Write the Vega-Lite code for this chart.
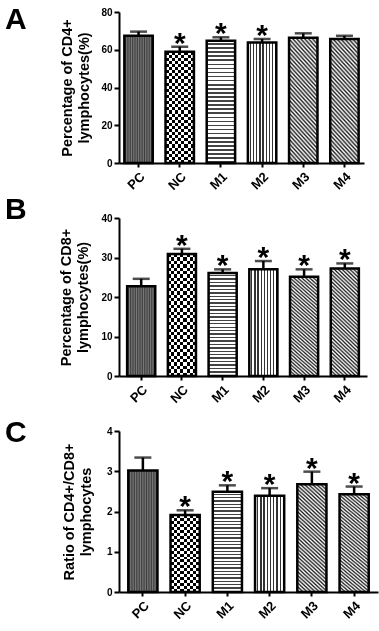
{
  "$schema": "https://vega.github.io/schema/vega-lite/v6.json",
  "background": "white",
  "padding": 5,
  "data": {"values": [
    {"p": "A", "g": "PC", "mean": 67.4, "hi": 69.6, "s": 0},
    {"p": "A", "g": "NC", "mean": 59.0, "hi": 61.6, "s": 1},
    {"p": "A", "g": "M1", "mean": 64.8, "hi": 66.6, "s": 1},
    {"p": "A", "g": "M2", "mean": 63.9, "hi": 65.7, "s": 1},
    {"p": "A", "g": "M3", "mean": 66.4, "hi": 68.7, "s": 0},
    {"p": "A", "g": "M4", "mean": 65.7, "hi": 67.4, "s": 0},
    {"p": "B", "g": "PC", "mean": 22.7, "hi": 24.6, "s": 0},
    {"p": "B", "g": "NC", "mean": 30.9, "hi": 32.2, "s": 1},
    {"p": "B", "g": "M1", "mean": 26.1, "hi": 27.0, "s": 1},
    {"p": "B", "g": "M2", "mean": 27.0, "hi": 29.1, "s": 1},
    {"p": "B", "g": "M3", "mean": 25.1, "hi": 27.0, "s": 1},
    {"p": "B", "g": "M4", "mean": 27.2, "hi": 28.5, "s": 1},
    {"p": "C", "g": "PC", "mean": 3.02, "hi": 3.34, "s": 0},
    {"p": "C", "g": "NC", "mean": 1.91, "hi": 2.03, "s": 1},
    {"p": "C", "g": "M1", "mean": 2.49, "hi": 2.65, "s": 1},
    {"p": "C", "g": "M2", "mean": 2.39, "hi": 2.58, "s": 1},
    {"p": "C", "g": "M3", "mean": 2.68, "hi": 2.99, "s": 1},
    {"p": "C", "g": "M4", "mean": 2.43, "hi": 2.62, "s": 1}
  ]},
  "bounds": "flush",
  "spacing": 55,
  "vconcat": [
    {
      "width": 245, "height": 151,
      "title": {"text": "A", "anchor": "start", "frame": "group", "dx": -114, "offset": -52, "baseline": "alphabetic", "fontSize": 30, "fontWeight": "bold", "font": "Liberation Sans", "color": "#000"},
      "transform": [{"filter": "datum.p==='A'"}],
      "encoding": {
        "x": {"field": "g", "type": "nominal", "sort": null, "title": null, "scale": {"domain": ["PC","NC","M1","M2","M3","M4"], "paddingInner": 0.31, "paddingOuter": 0.13}, "axis": {"labelAngle": -45}},
        "y": {"field": "mean", "type": "quantitative", "scale": {"domain": [0, 80]}, "axis": {"values": [0,20,40,60,80], "title": ["Percentage of CD4+", "lymphocytes(%)"], "titlePadding": 9}}
      },
      "layer": [
        {"transform": [{"filter": "datum.g==='PC'"}], "mark": {"type": "bar", "fill": {"gradient": "linear", "x1": 0, "y1": 0, "x2": 1, "y2": 0, "stops": [
          {"offset": 0, "color": "#7a7a7a"}, {"offset": 0.04167, "color": "#3c3c3c"}, {"offset": 0.08333, "color": "#7a7a7a"}, {"offset": 0.125, "color": "#3c3c3c"},
          {"offset": 0.16667, "color": "#7a7a7a"}, {"offset": 0.20833, "color": "#3c3c3c"}, {"offset": 0.25, "color": "#7a7a7a"}, {"offset": 0.29167, "color": "#3c3c3c"},
          {"offset": 0.33333, "color": "#7a7a7a"}, {"offset": 0.375, "color": "#3c3c3c"}, {"offset": 0.41667, "color": "#7a7a7a"}, {"offset": 0.45833, "color": "#3c3c3c"},
          {"offset": 0.5, "color": "#7a7a7a"}, {"offset": 0.54167, "color": "#3c3c3c"}, {"offset": 0.58333, "color": "#7a7a7a"}, {"offset": 0.625, "color": "#3c3c3c"},
          {"offset": 0.66667, "color": "#7a7a7a"}, {"offset": 0.70833, "color": "#3c3c3c"}, {"offset": 0.75, "color": "#7a7a7a"}, {"offset": 0.79167, "color": "#3c3c3c"},
          {"offset": 0.83333, "color": "#7a7a7a"}, {"offset": 0.875, "color": "#3c3c3c"}, {"offset": 0.91667, "color": "#7a7a7a"}, {"offset": 0.95833, "color": "#3c3c3c"},
          {"offset": 1, "color": "#7a7a7a"}]}}},
        {"transform": [{"filter": "datum.g==='NC'"}], "mark": {"type": "bar", "fill": {"gradient": "linear", "x1": 0, "y1": 0, "x2": 1, "y2": 0, "stops": [
          {"offset": 0, "color": "#fff"}, {"offset": 0.1111, "color": "#fff"}, {"offset": 0.1111, "color": "#000"}, {"offset": 0.2222, "color": "#000"},
          {"offset": 0.2222, "color": "#fff"}, {"offset": 0.3333, "color": "#fff"}, {"offset": 0.3333, "color": "#000"}, {"offset": 0.4444, "color": "#000"},
          {"offset": 0.4444, "color": "#fff"}, {"offset": 0.5556, "color": "#fff"}, {"offset": 0.5556, "color": "#000"}, {"offset": 0.6667, "color": "#000"},
          {"offset": 0.6667, "color": "#fff"}, {"offset": 0.7778, "color": "#fff"}, {"offset": 0.7778, "color": "#000"}, {"offset": 0.8889, "color": "#000"},
          {"offset": 0.8889, "color": "#fff"}, {"offset": 1, "color": "#fff"}]}}},
        {"transform": [{"filter": "datum.g==='NC'"}], "mark": {"type": "bar", "blend": "difference", "fill": {"gradient": "linear", "x1": 0, "y1": 0, "x2": 0, "y2": 1, "stops": [
          {"offset": 0, "color": "#fff"}, {"offset": 0.02778, "color": "#fff"}, {"offset": 0.02778, "color": "transparent"}, {"offset": 0.05556, "color": "transparent"},
          {"offset": 0.05556, "color": "#fff"}, {"offset": 0.08333, "color": "#fff"}, {"offset": 0.08333, "color": "transparent"}, {"offset": 0.11111, "color": "transparent"},
          {"offset": 0.11111, "color": "#fff"}, {"offset": 0.13889, "color": "#fff"}, {"offset": 0.13889, "color": "transparent"}, {"offset": 0.16667, "color": "transparent"},
          {"offset": 0.16667, "color": "#fff"}, {"offset": 0.19444, "color": "#fff"}, {"offset": 0.19444, "color": "transparent"}, {"offset": 0.22222, "color": "transparent"},
          {"offset": 0.22222, "color": "#fff"}, {"offset": 0.25, "color": "#fff"}, {"offset": 0.25, "color": "transparent"}, {"offset": 0.27778, "color": "transparent"},
          {"offset": 0.27778, "color": "#fff"}, {"offset": 0.30556, "color": "#fff"}, {"offset": 0.30556, "color": "transparent"}, {"offset": 0.33333, "color": "transparent"},
          {"offset": 0.33333, "color": "#fff"}, {"offset": 0.36111, "color": "#fff"}, {"offset": 0.36111, "color": "transparent"}, {"offset": 0.38889, "color": "transparent"},
          {"offset": 0.38889, "color": "#fff"}, {"offset": 0.41667, "color": "#fff"}, {"offset": 0.41667, "color": "transparent"}, {"offset": 0.44444, "color": "transparent"},
          {"offset": 0.44444, "color": "#fff"}, {"offset": 0.47222, "color": "#fff"}, {"offset": 0.47222, "color": "transparent"}, {"offset": 0.5, "color": "transparent"},
          {"offset": 0.5, "color": "#fff"}, {"offset": 0.52778, "color": "#fff"}, {"offset": 0.52778, "color": "transparent"}, {"offset": 0.55556, "color": "transparent"},
          {"offset": 0.55556, "color": "#fff"}, {"offset": 0.58333, "color": "#fff"}, {"offset": 0.58333, "color": "transparent"}, {"offset": 0.61111, "color": "transparent"},
          {"offset": 0.61111, "color": "#fff"}, {"offset": 0.63889, "color": "#fff"}, {"offset": 0.63889, "color": "transparent"}, {"offset": 0.66667, "color": "transparent"},
          {"offset": 0.66667, "color": "#fff"}, {"offset": 0.69444, "color": "#fff"}, {"offset": 0.69444, "color": "transparent"}, {"offset": 0.72222, "color": "transparent"},
          {"offset": 0.72222, "color": "#fff"}, {"offset": 0.75, "color": "#fff"}, {"offset": 0.75, "color": "transparent"}, {"offset": 0.77778, "color": "transparent"},
          {"offset": 0.77778, "color": "#fff"}, {"offset": 0.80556, "color": "#fff"}, {"offset": 0.80556, "color": "transparent"}, {"offset": 0.83333, "color": "transparent"},
          {"offset": 0.83333, "color": "#fff"}, {"offset": 0.86111, "color": "#fff"}, {"offset": 0.86111, "color": "transparent"}, {"offset": 0.88889, "color": "transparent"},
          {"offset": 0.88889, "color": "#fff"}, {"offset": 0.91667, "color": "#fff"}, {"offset": 0.91667, "color": "transparent"}, {"offset": 0.94444, "color": "transparent"},
          {"offset": 0.94444, "color": "#fff"}, {"offset": 0.97222, "color": "#fff"}, {"offset": 0.97222, "color": "transparent"}, {"offset": 1, "color": "transparent"}]}}},
        {"transform": [{"filter": "datum.g==='M1'"}], "mark": {"type": "bar", "fill": {"gradient": "linear", "x1": 0, "y1": 0, "x2": 0, "y2": 1, "stops": [
          {"offset": 0, "color": "#fff"}, {"offset": 0.02, "color": "#fff"}, {"offset": 0.02, "color": "#444"}, {"offset": 0.03333, "color": "#444"},
          {"offset": 0.03333, "color": "#fff"}, {"offset": 0.05333, "color": "#fff"}, {"offset": 0.05333, "color": "#444"}, {"offset": 0.06667, "color": "#444"},
          {"offset": 0.06667, "color": "#fff"}, {"offset": 0.08667, "color": "#fff"}, {"offset": 0.08667, "color": "#444"}, {"offset": 0.1, "color": "#444"},
          {"offset": 0.1, "color": "#fff"}, {"offset": 0.12, "color": "#fff"}, {"offset": 0.12, "color": "#444"}, {"offset": 0.13333, "color": "#444"},
          {"offset": 0.13333, "color": "#fff"}, {"offset": 0.15333, "color": "#fff"}, {"offset": 0.15333, "color": "#444"}, {"offset": 0.16667, "color": "#444"},
          {"offset": 0.16667, "color": "#fff"}, {"offset": 0.18667, "color": "#fff"}, {"offset": 0.18667, "color": "#444"}, {"offset": 0.2, "color": "#444"},
          {"offset": 0.2, "color": "#fff"}, {"offset": 0.22, "color": "#fff"}, {"offset": 0.22, "color": "#444"}, {"offset": 0.23333, "color": "#444"},
          {"offset": 0.23333, "color": "#fff"}, {"offset": 0.25333, "color": "#fff"}, {"offset": 0.25333, "color": "#444"}, {"offset": 0.26667, "color": "#444"},
          {"offset": 0.26667, "color": "#fff"}, {"offset": 0.28667, "color": "#fff"}, {"offset": 0.28667, "color": "#444"}, {"offset": 0.3, "color": "#444"},
          {"offset": 0.3, "color": "#fff"}, {"offset": 0.32, "color": "#fff"}, {"offset": 0.32, "color": "#444"}, {"offset": 0.33333, "color": "#444"},
          {"offset": 0.33333, "color": "#fff"}, {"offset": 0.35333, "color": "#fff"}, {"offset": 0.35333, "color": "#444"}, {"offset": 0.36667, "color": "#444"},
          {"offset": 0.36667, "color": "#fff"}, {"offset": 0.38667, "color": "#fff"}, {"offset": 0.38667, "color": "#444"}, {"offset": 0.4, "color": "#444"},
          {"offset": 0.4, "color": "#fff"}, {"offset": 0.42, "color": "#fff"}, {"offset": 0.42, "color": "#444"}, {"offset": 0.43333, "color": "#444"},
          {"offset": 0.43333, "color": "#fff"}, {"offset": 0.45333, "color": "#fff"}, {"offset": 0.45333, "color": "#444"}, {"offset": 0.46667, "color": "#444"},
          {"offset": 0.46667, "color": "#fff"}, {"offset": 0.48667, "color": "#fff"}, {"offset": 0.48667, "color": "#444"}, {"offset": 0.5, "color": "#444"},
          {"offset": 0.5, "color": "#fff"}, {"offset": 0.52, "color": "#fff"}, {"offset": 0.52, "color": "#444"}, {"offset": 0.53333, "color": "#444"},
          {"offset": 0.53333, "color": "#fff"}, {"offset": 0.55333, "color": "#fff"}, {"offset": 0.55333, "color": "#444"}, {"offset": 0.56667, "color": "#444"},
          {"offset": 0.56667, "color": "#fff"}, {"offset": 0.58667, "color": "#fff"}, {"offset": 0.58667, "color": "#444"}, {"offset": 0.6, "color": "#444"},
          {"offset": 0.6, "color": "#fff"}, {"offset": 0.62, "color": "#fff"}, {"offset": 0.62, "color": "#444"}, {"offset": 0.63333, "color": "#444"},
          {"offset": 0.63333, "color": "#fff"}, {"offset": 0.65333, "color": "#fff"}, {"offset": 0.65333, "color": "#444"}, {"offset": 0.66667, "color": "#444"},
          {"offset": 0.66667, "color": "#fff"}, {"offset": 0.68667, "color": "#fff"}, {"offset": 0.68667, "color": "#444"}, {"offset": 0.7, "color": "#444"},
          {"offset": 0.7, "color": "#fff"}, {"offset": 0.72, "color": "#fff"}, {"offset": 0.72, "color": "#444"}, {"offset": 0.73333, "color": "#444"},
          {"offset": 0.73333, "color": "#fff"}, {"offset": 0.75333, "color": "#fff"}, {"offset": 0.75333, "color": "#444"}, {"offset": 0.76667, "color": "#444"},
          {"offset": 0.76667, "color": "#fff"}, {"offset": 0.78667, "color": "#fff"}, {"offset": 0.78667, "color": "#444"}, {"offset": 0.8, "color": "#444"},
          {"offset": 0.8, "color": "#fff"}, {"offset": 0.82, "color": "#fff"}, {"offset": 0.82, "color": "#444"}, {"offset": 0.83333, "color": "#444"},
          {"offset": 0.83333, "color": "#fff"}, {"offset": 0.85333, "color": "#fff"}, {"offset": 0.85333, "color": "#444"}, {"offset": 0.86667, "color": "#444"},
          {"offset": 0.86667, "color": "#fff"}, {"offset": 0.88667, "color": "#fff"}, {"offset": 0.88667, "color": "#444"}, {"offset": 0.9, "color": "#444"},
          {"offset": 0.9, "color": "#fff"}, {"offset": 0.92, "color": "#fff"}, {"offset": 0.92, "color": "#444"}, {"offset": 0.93333, "color": "#444"},
          {"offset": 0.93333, "color": "#fff"}, {"offset": 0.95333, "color": "#fff"}, {"offset": 0.95333, "color": "#444"}, {"offset": 0.96667, "color": "#444"},
          {"offset": 0.96667, "color": "#fff"}, {"offset": 0.98667, "color": "#fff"}, {"offset": 0.98667, "color": "#444"}, {"offset": 1, "color": "#444"}]}}},
        {"transform": [{"filter": "datum.g==='M2'"}], "mark": {"type": "bar", "fill": {"gradient": "linear", "x1": 0, "y1": 0, "x2": 1, "y2": 0, "stops": [
          {"offset": 0, "color": "#fff"}, {"offset": 0.0667, "color": "#fff"}, {"offset": 0.0667, "color": "#333"}, {"offset": 0.1111, "color": "#333"},
          {"offset": 0.1111, "color": "#fff"}, {"offset": 0.1778, "color": "#fff"}, {"offset": 0.1778, "color": "#333"}, {"offset": 0.2222, "color": "#333"},
          {"offset": 0.2222, "color": "#fff"}, {"offset": 0.2889, "color": "#fff"}, {"offset": 0.2889, "color": "#333"}, {"offset": 0.3333, "color": "#333"},
          {"offset": 0.3333, "color": "#fff"}, {"offset": 0.4, "color": "#fff"}, {"offset": 0.4, "color": "#333"}, {"offset": 0.4444, "color": "#333"},
          {"offset": 0.4444, "color": "#fff"}, {"offset": 0.5111, "color": "#fff"}, {"offset": 0.5111, "color": "#333"}, {"offset": 0.5556, "color": "#333"},
          {"offset": 0.5556, "color": "#fff"}, {"offset": 0.6222, "color": "#fff"}, {"offset": 0.6222, "color": "#333"}, {"offset": 0.6667, "color": "#333"},
          {"offset": 0.6667, "color": "#fff"}, {"offset": 0.7333, "color": "#fff"}, {"offset": 0.7333, "color": "#333"}, {"offset": 0.7778, "color": "#333"},
          {"offset": 0.7778, "color": "#fff"}, {"offset": 0.8444, "color": "#fff"}, {"offset": 0.8444, "color": "#333"}, {"offset": 0.8889, "color": "#333"},
          {"offset": 0.8889, "color": "#fff"}, {"offset": 0.9556, "color": "#fff"}, {"offset": 0.9556, "color": "#333"}, {"offset": 1, "color": "#333"}]}}},
        {"transform": [{"filter": "datum.g==='M3'||datum.g==='M4'"}], "mark": {"type": "bar", "fill": {"gradient": "linear", "x1": 0, "y1": 1, "x2": 0.294, "y2": -0.176, "stops": [
          {"offset": 0, "color": "#fff"}, {"offset": 0.01389, "color": "#222"}, {"offset": 0.02778, "color": "#fff"}, {"offset": 0.04167, "color": "#222"},
          {"offset": 0.05556, "color": "#fff"}, {"offset": 0.06944, "color": "#222"}, {"offset": 0.08333, "color": "#fff"}, {"offset": 0.09722, "color": "#222"},
          {"offset": 0.11111, "color": "#fff"}, {"offset": 0.125, "color": "#222"}, {"offset": 0.13889, "color": "#fff"}, {"offset": 0.15278, "color": "#222"},
          {"offset": 0.16667, "color": "#fff"}, {"offset": 0.18056, "color": "#222"}, {"offset": 0.19444, "color": "#fff"}, {"offset": 0.20833, "color": "#222"},
          {"offset": 0.22222, "color": "#fff"}, {"offset": 0.23611, "color": "#222"}, {"offset": 0.25, "color": "#fff"}, {"offset": 0.26389, "color": "#222"},
          {"offset": 0.27778, "color": "#fff"}, {"offset": 0.29167, "color": "#222"}, {"offset": 0.30556, "color": "#fff"}, {"offset": 0.31944, "color": "#222"},
          {"offset": 0.33333, "color": "#fff"}, {"offset": 0.34722, "color": "#222"}, {"offset": 0.36111, "color": "#fff"}, {"offset": 0.375, "color": "#222"},
          {"offset": 0.38889, "color": "#fff"}, {"offset": 0.40278, "color": "#222"}, {"offset": 0.41667, "color": "#fff"}, {"offset": 0.43056, "color": "#222"},
          {"offset": 0.44444, "color": "#fff"}, {"offset": 0.45833, "color": "#222"}, {"offset": 0.47222, "color": "#fff"}, {"offset": 0.48611, "color": "#222"},
          {"offset": 0.5, "color": "#fff"}, {"offset": 0.51389, "color": "#222"}, {"offset": 0.52778, "color": "#fff"}, {"offset": 0.54167, "color": "#222"},
          {"offset": 0.55556, "color": "#fff"}, {"offset": 0.56944, "color": "#222"}, {"offset": 0.58333, "color": "#fff"}, {"offset": 0.59722, "color": "#222"},
          {"offset": 0.61111, "color": "#fff"}, {"offset": 0.625, "color": "#222"}, {"offset": 0.63889, "color": "#fff"}, {"offset": 0.65278, "color": "#222"},
          {"offset": 0.66667, "color": "#fff"}, {"offset": 0.68056, "color": "#222"}, {"offset": 0.69444, "color": "#fff"}, {"offset": 0.70833, "color": "#222"},
          {"offset": 0.72222, "color": "#fff"}, {"offset": 0.73611, "color": "#222"}, {"offset": 0.75, "color": "#fff"}, {"offset": 0.76389, "color": "#222"},
          {"offset": 0.77778, "color": "#fff"}, {"offset": 0.79167, "color": "#222"}, {"offset": 0.80556, "color": "#fff"}, {"offset": 0.81944, "color": "#222"},
          {"offset": 0.83333, "color": "#fff"}, {"offset": 0.84722, "color": "#222"}, {"offset": 0.86111, "color": "#fff"}, {"offset": 0.875, "color": "#222"},
          {"offset": 0.88889, "color": "#fff"}, {"offset": 0.90278, "color": "#222"}, {"offset": 0.91667, "color": "#fff"}, {"offset": 0.93056, "color": "#222"},
          {"offset": 0.94444, "color": "#fff"}, {"offset": 0.95833, "color": "#222"}, {"offset": 0.97222, "color": "#fff"}, {"offset": 0.98611, "color": "#222"},
          {"offset": 1, "color": "#fff"}]}}},
        {"mark": {"type": "bar", "filled": false, "stroke": "#000", "strokeWidth": 2.5}},
        {"mark": {"type": "rule", "stroke": "#000", "strokeWidth": 2.5}, "encoding": {"y2": {"field": "hi"}}},
        {"mark": {"type": "tick", "color": "#000", "size": 17, "thickness": 2.5}, "encoding": {"y": {"field": "hi", "type": "quantitative"}}},
        {"transform": [{"filter": "datum.s===1"}], "mark": {"type": "text", "text": "*", "fontSize": 30, "fontWeight": "bold", "font": "Liberation Sans", "baseline": "alphabetic", "dy": 6, "color": "#000"}, "encoding": {"y": {"field": "hi", "type": "quantitative"}}}
      ]
    },
    {
      "width": 248, "height": 158,
      "title": {"text": "B", "anchor": "start", "frame": "group", "dx": -114, "offset": -36, "baseline": "alphabetic", "fontSize": 30, "fontWeight": "bold", "font": "Liberation Sans", "color": "#000"},
      "transform": [{"filter": "datum.p==='B'"}],
      "encoding": {
        "x": {"field": "g", "type": "nominal", "sort": null, "title": null, "scale": {"domain": ["PC","NC","M1","M2","M3","M4"], "paddingInner": 0.31, "paddingOuter": 0.2}, "axis": {"labelAngle": -45}},
        "y": {"field": "mean", "type": "quantitative", "scale": {"domain": [0, 40]}, "axis": {"values": [0,10,20,30,40], "title": ["Percentage of CD8+", "lymphocytes(%)"], "titlePadding": 10}}
      },
      "layer": [
        {"transform": [{"filter": "datum.g==='PC'"}], "mark": {"type": "bar", "fill": {"gradient": "linear", "x1": 0, "y1": 0, "x2": 1, "y2": 0, "stops": [
          {"offset": 0, "color": "#7a7a7a"}, {"offset": 0.04167, "color": "#3c3c3c"}, {"offset": 0.08333, "color": "#7a7a7a"}, {"offset": 0.125, "color": "#3c3c3c"},
          {"offset": 0.16667, "color": "#7a7a7a"}, {"offset": 0.20833, "color": "#3c3c3c"}, {"offset": 0.25, "color": "#7a7a7a"}, {"offset": 0.29167, "color": "#3c3c3c"},
          {"offset": 0.33333, "color": "#7a7a7a"}, {"offset": 0.375, "color": "#3c3c3c"}, {"offset": 0.41667, "color": "#7a7a7a"}, {"offset": 0.45833, "color": "#3c3c3c"},
          {"offset": 0.5, "color": "#7a7a7a"}, {"offset": 0.54167, "color": "#3c3c3c"}, {"offset": 0.58333, "color": "#7a7a7a"}, {"offset": 0.625, "color": "#3c3c3c"},
          {"offset": 0.66667, "color": "#7a7a7a"}, {"offset": 0.70833, "color": "#3c3c3c"}, {"offset": 0.75, "color": "#7a7a7a"}, {"offset": 0.79167, "color": "#3c3c3c"},
          {"offset": 0.83333, "color": "#7a7a7a"}, {"offset": 0.875, "color": "#3c3c3c"}, {"offset": 0.91667, "color": "#7a7a7a"}, {"offset": 0.95833, "color": "#3c3c3c"},
          {"offset": 1, "color": "#7a7a7a"}]}}},
        {"transform": [{"filter": "datum.g==='NC'"}], "mark": {"type": "bar", "fill": {"gradient": "linear", "x1": 0, "y1": 0, "x2": 1, "y2": 0, "stops": [
          {"offset": 0, "color": "#fff"}, {"offset": 0.1111, "color": "#fff"}, {"offset": 0.1111, "color": "#000"}, {"offset": 0.2222, "color": "#000"},
          {"offset": 0.2222, "color": "#fff"}, {"offset": 0.3333, "color": "#fff"}, {"offset": 0.3333, "color": "#000"}, {"offset": 0.4444, "color": "#000"},
          {"offset": 0.4444, "color": "#fff"}, {"offset": 0.5556, "color": "#fff"}, {"offset": 0.5556, "color": "#000"}, {"offset": 0.6667, "color": "#000"},
          {"offset": 0.6667, "color": "#fff"}, {"offset": 0.7778, "color": "#fff"}, {"offset": 0.7778, "color": "#000"}, {"offset": 0.8889, "color": "#000"},
          {"offset": 0.8889, "color": "#fff"}, {"offset": 1, "color": "#fff"}]}}},
        {"transform": [{"filter": "datum.g==='NC'"}], "mark": {"type": "bar", "blend": "difference", "fill": {"gradient": "linear", "x1": 0, "y1": 0, "x2": 0, "y2": 1, "stops": [
          {"offset": 0, "color": "#fff"}, {"offset": 0.02778, "color": "#fff"}, {"offset": 0.02778, "color": "transparent"}, {"offset": 0.05556, "color": "transparent"},
          {"offset": 0.05556, "color": "#fff"}, {"offset": 0.08333, "color": "#fff"}, {"offset": 0.08333, "color": "transparent"}, {"offset": 0.11111, "color": "transparent"},
          {"offset": 0.11111, "color": "#fff"}, {"offset": 0.13889, "color": "#fff"}, {"offset": 0.13889, "color": "transparent"}, {"offset": 0.16667, "color": "transparent"},
          {"offset": 0.16667, "color": "#fff"}, {"offset": 0.19444, "color": "#fff"}, {"offset": 0.19444, "color": "transparent"}, {"offset": 0.22222, "color": "transparent"},
          {"offset": 0.22222, "color": "#fff"}, {"offset": 0.25, "color": "#fff"}, {"offset": 0.25, "color": "transparent"}, {"offset": 0.27778, "color": "transparent"},
          {"offset": 0.27778, "color": "#fff"}, {"offset": 0.30556, "color": "#fff"}, {"offset": 0.30556, "color": "transparent"}, {"offset": 0.33333, "color": "transparent"},
          {"offset": 0.33333, "color": "#fff"}, {"offset": 0.36111, "color": "#fff"}, {"offset": 0.36111, "color": "transparent"}, {"offset": 0.38889, "color": "transparent"},
          {"offset": 0.38889, "color": "#fff"}, {"offset": 0.41667, "color": "#fff"}, {"offset": 0.41667, "color": "transparent"}, {"offset": 0.44444, "color": "transparent"},
          {"offset": 0.44444, "color": "#fff"}, {"offset": 0.47222, "color": "#fff"}, {"offset": 0.47222, "color": "transparent"}, {"offset": 0.5, "color": "transparent"},
          {"offset": 0.5, "color": "#fff"}, {"offset": 0.52778, "color": "#fff"}, {"offset": 0.52778, "color": "transparent"}, {"offset": 0.55556, "color": "transparent"},
          {"offset": 0.55556, "color": "#fff"}, {"offset": 0.58333, "color": "#fff"}, {"offset": 0.58333, "color": "transparent"}, {"offset": 0.61111, "color": "transparent"},
          {"offset": 0.61111, "color": "#fff"}, {"offset": 0.63889, "color": "#fff"}, {"offset": 0.63889, "color": "transparent"}, {"offset": 0.66667, "color": "transparent"},
          {"offset": 0.66667, "color": "#fff"}, {"offset": 0.69444, "color": "#fff"}, {"offset": 0.69444, "color": "transparent"}, {"offset": 0.72222, "color": "transparent"},
          {"offset": 0.72222, "color": "#fff"}, {"offset": 0.75, "color": "#fff"}, {"offset": 0.75, "color": "transparent"}, {"offset": 0.77778, "color": "transparent"},
          {"offset": 0.77778, "color": "#fff"}, {"offset": 0.80556, "color": "#fff"}, {"offset": 0.80556, "color": "transparent"}, {"offset": 0.83333, "color": "transparent"},
          {"offset": 0.83333, "color": "#fff"}, {"offset": 0.86111, "color": "#fff"}, {"offset": 0.86111, "color": "transparent"}, {"offset": 0.88889, "color": "transparent"},
          {"offset": 0.88889, "color": "#fff"}, {"offset": 0.91667, "color": "#fff"}, {"offset": 0.91667, "color": "transparent"}, {"offset": 0.94444, "color": "transparent"},
          {"offset": 0.94444, "color": "#fff"}, {"offset": 0.97222, "color": "#fff"}, {"offset": 0.97222, "color": "transparent"}, {"offset": 1, "color": "transparent"}]}}},
        {"transform": [{"filter": "datum.g==='M1'"}], "mark": {"type": "bar", "fill": {"gradient": "linear", "x1": 0, "y1": 0, "x2": 0, "y2": 1, "stops": [
          {"offset": 0, "color": "#fff"}, {"offset": 0.02, "color": "#fff"}, {"offset": 0.02, "color": "#444"}, {"offset": 0.03333, "color": "#444"},
          {"offset": 0.03333, "color": "#fff"}, {"offset": 0.05333, "color": "#fff"}, {"offset": 0.05333, "color": "#444"}, {"offset": 0.06667, "color": "#444"},
          {"offset": 0.06667, "color": "#fff"}, {"offset": 0.08667, "color": "#fff"}, {"offset": 0.08667, "color": "#444"}, {"offset": 0.1, "color": "#444"},
          {"offset": 0.1, "color": "#fff"}, {"offset": 0.12, "color": "#fff"}, {"offset": 0.12, "color": "#444"}, {"offset": 0.13333, "color": "#444"},
          {"offset": 0.13333, "color": "#fff"}, {"offset": 0.15333, "color": "#fff"}, {"offset": 0.15333, "color": "#444"}, {"offset": 0.16667, "color": "#444"},
          {"offset": 0.16667, "color": "#fff"}, {"offset": 0.18667, "color": "#fff"}, {"offset": 0.18667, "color": "#444"}, {"offset": 0.2, "color": "#444"},
          {"offset": 0.2, "color": "#fff"}, {"offset": 0.22, "color": "#fff"}, {"offset": 0.22, "color": "#444"}, {"offset": 0.23333, "color": "#444"},
          {"offset": 0.23333, "color": "#fff"}, {"offset": 0.25333, "color": "#fff"}, {"offset": 0.25333, "color": "#444"}, {"offset": 0.26667, "color": "#444"},
          {"offset": 0.26667, "color": "#fff"}, {"offset": 0.28667, "color": "#fff"}, {"offset": 0.28667, "color": "#444"}, {"offset": 0.3, "color": "#444"},
          {"offset": 0.3, "color": "#fff"}, {"offset": 0.32, "color": "#fff"}, {"offset": 0.32, "color": "#444"}, {"offset": 0.33333, "color": "#444"},
          {"offset": 0.33333, "color": "#fff"}, {"offset": 0.35333, "color": "#fff"}, {"offset": 0.35333, "color": "#444"}, {"offset": 0.36667, "color": "#444"},
          {"offset": 0.36667, "color": "#fff"}, {"offset": 0.38667, "color": "#fff"}, {"offset": 0.38667, "color": "#444"}, {"offset": 0.4, "color": "#444"},
          {"offset": 0.4, "color": "#fff"}, {"offset": 0.42, "color": "#fff"}, {"offset": 0.42, "color": "#444"}, {"offset": 0.43333, "color": "#444"},
          {"offset": 0.43333, "color": "#fff"}, {"offset": 0.45333, "color": "#fff"}, {"offset": 0.45333, "color": "#444"}, {"offset": 0.46667, "color": "#444"},
          {"offset": 0.46667, "color": "#fff"}, {"offset": 0.48667, "color": "#fff"}, {"offset": 0.48667, "color": "#444"}, {"offset": 0.5, "color": "#444"},
          {"offset": 0.5, "color": "#fff"}, {"offset": 0.52, "color": "#fff"}, {"offset": 0.52, "color": "#444"}, {"offset": 0.53333, "color": "#444"},
          {"offset": 0.53333, "color": "#fff"}, {"offset": 0.55333, "color": "#fff"}, {"offset": 0.55333, "color": "#444"}, {"offset": 0.56667, "color": "#444"},
          {"offset": 0.56667, "color": "#fff"}, {"offset": 0.58667, "color": "#fff"}, {"offset": 0.58667, "color": "#444"}, {"offset": 0.6, "color": "#444"},
          {"offset": 0.6, "color": "#fff"}, {"offset": 0.62, "color": "#fff"}, {"offset": 0.62, "color": "#444"}, {"offset": 0.63333, "color": "#444"},
          {"offset": 0.63333, "color": "#fff"}, {"offset": 0.65333, "color": "#fff"}, {"offset": 0.65333, "color": "#444"}, {"offset": 0.66667, "color": "#444"},
          {"offset": 0.66667, "color": "#fff"}, {"offset": 0.68667, "color": "#fff"}, {"offset": 0.68667, "color": "#444"}, {"offset": 0.7, "color": "#444"},
          {"offset": 0.7, "color": "#fff"}, {"offset": 0.72, "color": "#fff"}, {"offset": 0.72, "color": "#444"}, {"offset": 0.73333, "color": "#444"},
          {"offset": 0.73333, "color": "#fff"}, {"offset": 0.75333, "color": "#fff"}, {"offset": 0.75333, "color": "#444"}, {"offset": 0.76667, "color": "#444"},
          {"offset": 0.76667, "color": "#fff"}, {"offset": 0.78667, "color": "#fff"}, {"offset": 0.78667, "color": "#444"}, {"offset": 0.8, "color": "#444"},
          {"offset": 0.8, "color": "#fff"}, {"offset": 0.82, "color": "#fff"}, {"offset": 0.82, "color": "#444"}, {"offset": 0.83333, "color": "#444"},
          {"offset": 0.83333, "color": "#fff"}, {"offset": 0.85333, "color": "#fff"}, {"offset": 0.85333, "color": "#444"}, {"offset": 0.86667, "color": "#444"},
          {"offset": 0.86667, "color": "#fff"}, {"offset": 0.88667, "color": "#fff"}, {"offset": 0.88667, "color": "#444"}, {"offset": 0.9, "color": "#444"},
          {"offset": 0.9, "color": "#fff"}, {"offset": 0.92, "color": "#fff"}, {"offset": 0.92, "color": "#444"}, {"offset": 0.93333, "color": "#444"},
          {"offset": 0.93333, "color": "#fff"}, {"offset": 0.95333, "color": "#fff"}, {"offset": 0.95333, "color": "#444"}, {"offset": 0.96667, "color": "#444"},
          {"offset": 0.96667, "color": "#fff"}, {"offset": 0.98667, "color": "#fff"}, {"offset": 0.98667, "color": "#444"}, {"offset": 1, "color": "#444"}]}}},
        {"transform": [{"filter": "datum.g==='M2'"}], "mark": {"type": "bar", "fill": {"gradient": "linear", "x1": 0, "y1": 0, "x2": 1, "y2": 0, "stops": [
          {"offset": 0, "color": "#fff"}, {"offset": 0.0667, "color": "#fff"}, {"offset": 0.0667, "color": "#333"}, {"offset": 0.1111, "color": "#333"},
          {"offset": 0.1111, "color": "#fff"}, {"offset": 0.1778, "color": "#fff"}, {"offset": 0.1778, "color": "#333"}, {"offset": 0.2222, "color": "#333"},
          {"offset": 0.2222, "color": "#fff"}, {"offset": 0.2889, "color": "#fff"}, {"offset": 0.2889, "color": "#333"}, {"offset": 0.3333, "color": "#333"},
          {"offset": 0.3333, "color": "#fff"}, {"offset": 0.4, "color": "#fff"}, {"offset": 0.4, "color": "#333"}, {"offset": 0.4444, "color": "#333"},
          {"offset": 0.4444, "color": "#fff"}, {"offset": 0.5111, "color": "#fff"}, {"offset": 0.5111, "color": "#333"}, {"offset": 0.5556, "color": "#333"},
          {"offset": 0.5556, "color": "#fff"}, {"offset": 0.6222, "color": "#fff"}, {"offset": 0.6222, "color": "#333"}, {"offset": 0.6667, "color": "#333"},
          {"offset": 0.6667, "color": "#fff"}, {"offset": 0.7333, "color": "#fff"}, {"offset": 0.7333, "color": "#333"}, {"offset": 0.7778, "color": "#333"},
          {"offset": 0.7778, "color": "#fff"}, {"offset": 0.8444, "color": "#fff"}, {"offset": 0.8444, "color": "#333"}, {"offset": 0.8889, "color": "#333"},
          {"offset": 0.8889, "color": "#fff"}, {"offset": 0.9556, "color": "#fff"}, {"offset": 0.9556, "color": "#333"}, {"offset": 1, "color": "#333"}]}}},
        {"transform": [{"filter": "datum.g==='M3'||datum.g==='M4'"}], "mark": {"type": "bar", "fill": {"gradient": "linear", "x1": 0, "y1": 1, "x2": 0.294, "y2": -0.176, "stops": [
          {"offset": 0, "color": "#fff"}, {"offset": 0.01389, "color": "#222"}, {"offset": 0.02778, "color": "#fff"}, {"offset": 0.04167, "color": "#222"},
          {"offset": 0.05556, "color": "#fff"}, {"offset": 0.06944, "color": "#222"}, {"offset": 0.08333, "color": "#fff"}, {"offset": 0.09722, "color": "#222"},
          {"offset": 0.11111, "color": "#fff"}, {"offset": 0.125, "color": "#222"}, {"offset": 0.13889, "color": "#fff"}, {"offset": 0.15278, "color": "#222"},
          {"offset": 0.16667, "color": "#fff"}, {"offset": 0.18056, "color": "#222"}, {"offset": 0.19444, "color": "#fff"}, {"offset": 0.20833, "color": "#222"},
          {"offset": 0.22222, "color": "#fff"}, {"offset": 0.23611, "color": "#222"}, {"offset": 0.25, "color": "#fff"}, {"offset": 0.26389, "color": "#222"},
          {"offset": 0.27778, "color": "#fff"}, {"offset": 0.29167, "color": "#222"}, {"offset": 0.30556, "color": "#fff"}, {"offset": 0.31944, "color": "#222"},
          {"offset": 0.33333, "color": "#fff"}, {"offset": 0.34722, "color": "#222"}, {"offset": 0.36111, "color": "#fff"}, {"offset": 0.375, "color": "#222"},
          {"offset": 0.38889, "color": "#fff"}, {"offset": 0.40278, "color": "#222"}, {"offset": 0.41667, "color": "#fff"}, {"offset": 0.43056, "color": "#222"},
          {"offset": 0.44444, "color": "#fff"}, {"offset": 0.45833, "color": "#222"}, {"offset": 0.47222, "color": "#fff"}, {"offset": 0.48611, "color": "#222"},
          {"offset": 0.5, "color": "#fff"}, {"offset": 0.51389, "color": "#222"}, {"offset": 0.52778, "color": "#fff"}, {"offset": 0.54167, "color": "#222"},
          {"offset": 0.55556, "color": "#fff"}, {"offset": 0.56944, "color": "#222"}, {"offset": 0.58333, "color": "#fff"}, {"offset": 0.59722, "color": "#222"},
          {"offset": 0.61111, "color": "#fff"}, {"offset": 0.625, "color": "#222"}, {"offset": 0.63889, "color": "#fff"}, {"offset": 0.65278, "color": "#222"},
          {"offset": 0.66667, "color": "#fff"}, {"offset": 0.68056, "color": "#222"}, {"offset": 0.69444, "color": "#fff"}, {"offset": 0.70833, "color": "#222"},
          {"offset": 0.72222, "color": "#fff"}, {"offset": 0.73611, "color": "#222"}, {"offset": 0.75, "color": "#fff"}, {"offset": 0.76389, "color": "#222"},
          {"offset": 0.77778, "color": "#fff"}, {"offset": 0.79167, "color": "#222"}, {"offset": 0.80556, "color": "#fff"}, {"offset": 0.81944, "color": "#222"},
          {"offset": 0.83333, "color": "#fff"}, {"offset": 0.84722, "color": "#222"}, {"offset": 0.86111, "color": "#fff"}, {"offset": 0.875, "color": "#222"},
          {"offset": 0.88889, "color": "#fff"}, {"offset": 0.90278, "color": "#222"}, {"offset": 0.91667, "color": "#fff"}, {"offset": 0.93056, "color": "#222"},
          {"offset": 0.94444, "color": "#fff"}, {"offset": 0.95833, "color": "#222"}, {"offset": 0.97222, "color": "#fff"}, {"offset": 0.98611, "color": "#222"},
          {"offset": 1, "color": "#fff"}]}}},
        {"mark": {"type": "bar", "filled": false, "stroke": "#000", "strokeWidth": 2.5}},
        {"mark": {"type": "rule", "stroke": "#000", "strokeWidth": 2.5}, "encoding": {"y2": {"field": "hi"}}},
        {"mark": {"type": "tick", "color": "#000", "size": 17, "thickness": 2.5}, "encoding": {"y": {"field": "hi", "type": "quantitative"}}},
        {"transform": [{"filter": "datum.s===1"}], "mark": {"type": "text", "text": "*", "fontSize": 30, "fontWeight": "bold", "font": "Liberation Sans", "baseline": "alphabetic", "dy": 6, "color": "#000"}, "encoding": {"y": {"field": "hi", "type": "quantitative"}}}
      ]
    },
    {
      "width": 259, "height": 161,
      "title": {"text": "C", "anchor": "start", "frame": "group", "dx": -114, "offset": -46, "baseline": "alphabetic", "fontSize": 30, "fontWeight": "bold", "font": "Liberation Sans", "color": "#000"},
      "transform": [{"filter": "datum.p==='C'"}],
      "encoding": {
        "x": {"field": "g", "type": "nominal", "sort": null, "title": null, "scale": {"domain": ["PC","NC","M1","M2","M3","M4"], "paddingInner": 0.31, "paddingOuter": 0.22}, "axis": {"labelAngle": -45}},
        "y": {"field": "mean", "type": "quantitative", "scale": {"domain": [0, 4]}, "axis": {"values": [0,1,2,3,4], "title": ["Ratio of CD4+/CD8+", "lymphocytes"], "titlePadding": 13}}
      },
      "layer": [
        {"transform": [{"filter": "datum.g==='PC'"}], "mark": {"type": "bar", "fill": {"gradient": "linear", "x1": 0, "y1": 0, "x2": 1, "y2": 0, "stops": [
          {"offset": 0, "color": "#7a7a7a"}, {"offset": 0.04167, "color": "#3c3c3c"}, {"offset": 0.08333, "color": "#7a7a7a"}, {"offset": 0.125, "color": "#3c3c3c"},
          {"offset": 0.16667, "color": "#7a7a7a"}, {"offset": 0.20833, "color": "#3c3c3c"}, {"offset": 0.25, "color": "#7a7a7a"}, {"offset": 0.29167, "color": "#3c3c3c"},
          {"offset": 0.33333, "color": "#7a7a7a"}, {"offset": 0.375, "color": "#3c3c3c"}, {"offset": 0.41667, "color": "#7a7a7a"}, {"offset": 0.45833, "color": "#3c3c3c"},
          {"offset": 0.5, "color": "#7a7a7a"}, {"offset": 0.54167, "color": "#3c3c3c"}, {"offset": 0.58333, "color": "#7a7a7a"}, {"offset": 0.625, "color": "#3c3c3c"},
          {"offset": 0.66667, "color": "#7a7a7a"}, {"offset": 0.70833, "color": "#3c3c3c"}, {"offset": 0.75, "color": "#7a7a7a"}, {"offset": 0.79167, "color": "#3c3c3c"},
          {"offset": 0.83333, "color": "#7a7a7a"}, {"offset": 0.875, "color": "#3c3c3c"}, {"offset": 0.91667, "color": "#7a7a7a"}, {"offset": 0.95833, "color": "#3c3c3c"},
          {"offset": 1, "color": "#7a7a7a"}]}}},
        {"transform": [{"filter": "datum.g==='NC'"}], "mark": {"type": "bar", "fill": {"gradient": "linear", "x1": 0, "y1": 0, "x2": 1, "y2": 0, "stops": [
          {"offset": 0, "color": "#fff"}, {"offset": 0.1111, "color": "#fff"}, {"offset": 0.1111, "color": "#000"}, {"offset": 0.2222, "color": "#000"},
          {"offset": 0.2222, "color": "#fff"}, {"offset": 0.3333, "color": "#fff"}, {"offset": 0.3333, "color": "#000"}, {"offset": 0.4444, "color": "#000"},
          {"offset": 0.4444, "color": "#fff"}, {"offset": 0.5556, "color": "#fff"}, {"offset": 0.5556, "color": "#000"}, {"offset": 0.6667, "color": "#000"},
          {"offset": 0.6667, "color": "#fff"}, {"offset": 0.7778, "color": "#fff"}, {"offset": 0.7778, "color": "#000"}, {"offset": 0.8889, "color": "#000"},
          {"offset": 0.8889, "color": "#fff"}, {"offset": 1, "color": "#fff"}]}}},
        {"transform": [{"filter": "datum.g==='NC'"}], "mark": {"type": "bar", "blend": "difference", "fill": {"gradient": "linear", "x1": 0, "y1": 0, "x2": 0, "y2": 1, "stops": [
          {"offset": 0, "color": "#fff"}, {"offset": 0.03846, "color": "#fff"}, {"offset": 0.03846, "color": "transparent"}, {"offset": 0.07692, "color": "transparent"},
          {"offset": 0.07692, "color": "#fff"}, {"offset": 0.11538, "color": "#fff"}, {"offset": 0.11538, "color": "transparent"}, {"offset": 0.15385, "color": "transparent"},
          {"offset": 0.15385, "color": "#fff"}, {"offset": 0.19231, "color": "#fff"}, {"offset": 0.19231, "color": "transparent"}, {"offset": 0.23077, "color": "transparent"},
          {"offset": 0.23077, "color": "#fff"}, {"offset": 0.26923, "color": "#fff"}, {"offset": 0.26923, "color": "transparent"}, {"offset": 0.30769, "color": "transparent"},
          {"offset": 0.30769, "color": "#fff"}, {"offset": 0.34615, "color": "#fff"}, {"offset": 0.34615, "color": "transparent"}, {"offset": 0.38462, "color": "transparent"},
          {"offset": 0.38462, "color": "#fff"}, {"offset": 0.42308, "color": "#fff"}, {"offset": 0.42308, "color": "transparent"}, {"offset": 0.46154, "color": "transparent"},
          {"offset": 0.46154, "color": "#fff"}, {"offset": 0.5, "color": "#fff"}, {"offset": 0.5, "color": "transparent"}, {"offset": 0.53846, "color": "transparent"},
          {"offset": 0.53846, "color": "#fff"}, {"offset": 0.57692, "color": "#fff"}, {"offset": 0.57692, "color": "transparent"}, {"offset": 0.61538, "color": "transparent"},
          {"offset": 0.61538, "color": "#fff"}, {"offset": 0.65385, "color": "#fff"}, {"offset": 0.65385, "color": "transparent"}, {"offset": 0.69231, "color": "transparent"},
          {"offset": 0.69231, "color": "#fff"}, {"offset": 0.73077, "color": "#fff"}, {"offset": 0.73077, "color": "transparent"}, {"offset": 0.76923, "color": "transparent"},
          {"offset": 0.76923, "color": "#fff"}, {"offset": 0.80769, "color": "#fff"}, {"offset": 0.80769, "color": "transparent"}, {"offset": 0.84615, "color": "transparent"},
          {"offset": 0.84615, "color": "#fff"}, {"offset": 0.88462, "color": "#fff"}, {"offset": 0.88462, "color": "transparent"}, {"offset": 0.92308, "color": "transparent"},
          {"offset": 0.92308, "color": "#fff"}, {"offset": 0.96154, "color": "#fff"}, {"offset": 0.96154, "color": "transparent"}, {"offset": 1, "color": "transparent"}]}}},
        {"transform": [{"filter": "datum.g==='M1'"}], "mark": {"type": "bar", "fill": {"gradient": "linear", "x1": 0, "y1": 0, "x2": 0, "y2": 1, "stops": [
          {"offset": 0, "color": "#fff"}, {"offset": 0.02, "color": "#fff"}, {"offset": 0.02, "color": "#444"}, {"offset": 0.03333, "color": "#444"},
          {"offset": 0.03333, "color": "#fff"}, {"offset": 0.05333, "color": "#fff"}, {"offset": 0.05333, "color": "#444"}, {"offset": 0.06667, "color": "#444"},
          {"offset": 0.06667, "color": "#fff"}, {"offset": 0.08667, "color": "#fff"}, {"offset": 0.08667, "color": "#444"}, {"offset": 0.1, "color": "#444"},
          {"offset": 0.1, "color": "#fff"}, {"offset": 0.12, "color": "#fff"}, {"offset": 0.12, "color": "#444"}, {"offset": 0.13333, "color": "#444"},
          {"offset": 0.13333, "color": "#fff"}, {"offset": 0.15333, "color": "#fff"}, {"offset": 0.15333, "color": "#444"}, {"offset": 0.16667, "color": "#444"},
          {"offset": 0.16667, "color": "#fff"}, {"offset": 0.18667, "color": "#fff"}, {"offset": 0.18667, "color": "#444"}, {"offset": 0.2, "color": "#444"},
          {"offset": 0.2, "color": "#fff"}, {"offset": 0.22, "color": "#fff"}, {"offset": 0.22, "color": "#444"}, {"offset": 0.23333, "color": "#444"},
          {"offset": 0.23333, "color": "#fff"}, {"offset": 0.25333, "color": "#fff"}, {"offset": 0.25333, "color": "#444"}, {"offset": 0.26667, "color": "#444"},
          {"offset": 0.26667, "color": "#fff"}, {"offset": 0.28667, "color": "#fff"}, {"offset": 0.28667, "color": "#444"}, {"offset": 0.3, "color": "#444"},
          {"offset": 0.3, "color": "#fff"}, {"offset": 0.32, "color": "#fff"}, {"offset": 0.32, "color": "#444"}, {"offset": 0.33333, "color": "#444"},
          {"offset": 0.33333, "color": "#fff"}, {"offset": 0.35333, "color": "#fff"}, {"offset": 0.35333, "color": "#444"}, {"offset": 0.36667, "color": "#444"},
          {"offset": 0.36667, "color": "#fff"}, {"offset": 0.38667, "color": "#fff"}, {"offset": 0.38667, "color": "#444"}, {"offset": 0.4, "color": "#444"},
          {"offset": 0.4, "color": "#fff"}, {"offset": 0.42, "color": "#fff"}, {"offset": 0.42, "color": "#444"}, {"offset": 0.43333, "color": "#444"},
          {"offset": 0.43333, "color": "#fff"}, {"offset": 0.45333, "color": "#fff"}, {"offset": 0.45333, "color": "#444"}, {"offset": 0.46667, "color": "#444"},
          {"offset": 0.46667, "color": "#fff"}, {"offset": 0.48667, "color": "#fff"}, {"offset": 0.48667, "color": "#444"}, {"offset": 0.5, "color": "#444"},
          {"offset": 0.5, "color": "#fff"}, {"offset": 0.52, "color": "#fff"}, {"offset": 0.52, "color": "#444"}, {"offset": 0.53333, "color": "#444"},
          {"offset": 0.53333, "color": "#fff"}, {"offset": 0.55333, "color": "#fff"}, {"offset": 0.55333, "color": "#444"}, {"offset": 0.56667, "color": "#444"},
          {"offset": 0.56667, "color": "#fff"}, {"offset": 0.58667, "color": "#fff"}, {"offset": 0.58667, "color": "#444"}, {"offset": 0.6, "color": "#444"},
          {"offset": 0.6, "color": "#fff"}, {"offset": 0.62, "color": "#fff"}, {"offset": 0.62, "color": "#444"}, {"offset": 0.63333, "color": "#444"},
          {"offset": 0.63333, "color": "#fff"}, {"offset": 0.65333, "color": "#fff"}, {"offset": 0.65333, "color": "#444"}, {"offset": 0.66667, "color": "#444"},
          {"offset": 0.66667, "color": "#fff"}, {"offset": 0.68667, "color": "#fff"}, {"offset": 0.68667, "color": "#444"}, {"offset": 0.7, "color": "#444"},
          {"offset": 0.7, "color": "#fff"}, {"offset": 0.72, "color": "#fff"}, {"offset": 0.72, "color": "#444"}, {"offset": 0.73333, "color": "#444"},
          {"offset": 0.73333, "color": "#fff"}, {"offset": 0.75333, "color": "#fff"}, {"offset": 0.75333, "color": "#444"}, {"offset": 0.76667, "color": "#444"},
          {"offset": 0.76667, "color": "#fff"}, {"offset": 0.78667, "color": "#fff"}, {"offset": 0.78667, "color": "#444"}, {"offset": 0.8, "color": "#444"},
          {"offset": 0.8, "color": "#fff"}, {"offset": 0.82, "color": "#fff"}, {"offset": 0.82, "color": "#444"}, {"offset": 0.83333, "color": "#444"},
          {"offset": 0.83333, "color": "#fff"}, {"offset": 0.85333, "color": "#fff"}, {"offset": 0.85333, "color": "#444"}, {"offset": 0.86667, "color": "#444"},
          {"offset": 0.86667, "color": "#fff"}, {"offset": 0.88667, "color": "#fff"}, {"offset": 0.88667, "color": "#444"}, {"offset": 0.9, "color": "#444"},
          {"offset": 0.9, "color": "#fff"}, {"offset": 0.92, "color": "#fff"}, {"offset": 0.92, "color": "#444"}, {"offset": 0.93333, "color": "#444"},
          {"offset": 0.93333, "color": "#fff"}, {"offset": 0.95333, "color": "#fff"}, {"offset": 0.95333, "color": "#444"}, {"offset": 0.96667, "color": "#444"},
          {"offset": 0.96667, "color": "#fff"}, {"offset": 0.98667, "color": "#fff"}, {"offset": 0.98667, "color": "#444"}, {"offset": 1, "color": "#444"}]}}},
        {"transform": [{"filter": "datum.g==='M2'"}], "mark": {"type": "bar", "fill": {"gradient": "linear", "x1": 0, "y1": 0, "x2": 1, "y2": 0, "stops": [
          {"offset": 0, "color": "#fff"}, {"offset": 0.0667, "color": "#fff"}, {"offset": 0.0667, "color": "#333"}, {"offset": 0.1111, "color": "#333"},
          {"offset": 0.1111, "color": "#fff"}, {"offset": 0.1778, "color": "#fff"}, {"offset": 0.1778, "color": "#333"}, {"offset": 0.2222, "color": "#333"},
          {"offset": 0.2222, "color": "#fff"}, {"offset": 0.2889, "color": "#fff"}, {"offset": 0.2889, "color": "#333"}, {"offset": 0.3333, "color": "#333"},
          {"offset": 0.3333, "color": "#fff"}, {"offset": 0.4, "color": "#fff"}, {"offset": 0.4, "color": "#333"}, {"offset": 0.4444, "color": "#333"},
          {"offset": 0.4444, "color": "#fff"}, {"offset": 0.5111, "color": "#fff"}, {"offset": 0.5111, "color": "#333"}, {"offset": 0.5556, "color": "#333"},
          {"offset": 0.5556, "color": "#fff"}, {"offset": 0.6222, "color": "#fff"}, {"offset": 0.6222, "color": "#333"}, {"offset": 0.6667, "color": "#333"},
          {"offset": 0.6667, "color": "#fff"}, {"offset": 0.7333, "color": "#fff"}, {"offset": 0.7333, "color": "#333"}, {"offset": 0.7778, "color": "#333"},
          {"offset": 0.7778, "color": "#fff"}, {"offset": 0.8444, "color": "#fff"}, {"offset": 0.8444, "color": "#333"}, {"offset": 0.8889, "color": "#333"},
          {"offset": 0.8889, "color": "#fff"}, {"offset": 0.9556, "color": "#fff"}, {"offset": 0.9556, "color": "#333"}, {"offset": 1, "color": "#333"}]}}},
        {"transform": [{"filter": "datum.g==='M3'||datum.g==='M4'"}], "mark": {"type": "bar", "fill": {"gradient": "linear", "x1": 0, "y1": 1, "x2": 0.294, "y2": -0.176, "stops": [
          {"offset": 0, "color": "#fff"}, {"offset": 0.01389, "color": "#222"}, {"offset": 0.02778, "color": "#fff"}, {"offset": 0.04167, "color": "#222"},
          {"offset": 0.05556, "color": "#fff"}, {"offset": 0.06944, "color": "#222"}, {"offset": 0.08333, "color": "#fff"}, {"offset": 0.09722, "color": "#222"},
          {"offset": 0.11111, "color": "#fff"}, {"offset": 0.125, "color": "#222"}, {"offset": 0.13889, "color": "#fff"}, {"offset": 0.15278, "color": "#222"},
          {"offset": 0.16667, "color": "#fff"}, {"offset": 0.18056, "color": "#222"}, {"offset": 0.19444, "color": "#fff"}, {"offset": 0.20833, "color": "#222"},
          {"offset": 0.22222, "color": "#fff"}, {"offset": 0.23611, "color": "#222"}, {"offset": 0.25, "color": "#fff"}, {"offset": 0.26389, "color": "#222"},
          {"offset": 0.27778, "color": "#fff"}, {"offset": 0.29167, "color": "#222"}, {"offset": 0.30556, "color": "#fff"}, {"offset": 0.31944, "color": "#222"},
          {"offset": 0.33333, "color": "#fff"}, {"offset": 0.34722, "color": "#222"}, {"offset": 0.36111, "color": "#fff"}, {"offset": 0.375, "color": "#222"},
          {"offset": 0.38889, "color": "#fff"}, {"offset": 0.40278, "color": "#222"}, {"offset": 0.41667, "color": "#fff"}, {"offset": 0.43056, "color": "#222"},
          {"offset": 0.44444, "color": "#fff"}, {"offset": 0.45833, "color": "#222"}, {"offset": 0.47222, "color": "#fff"}, {"offset": 0.48611, "color": "#222"},
          {"offset": 0.5, "color": "#fff"}, {"offset": 0.51389, "color": "#222"}, {"offset": 0.52778, "color": "#fff"}, {"offset": 0.54167, "color": "#222"},
          {"offset": 0.55556, "color": "#fff"}, {"offset": 0.56944, "color": "#222"}, {"offset": 0.58333, "color": "#fff"}, {"offset": 0.59722, "color": "#222"},
          {"offset": 0.61111, "color": "#fff"}, {"offset": 0.625, "color": "#222"}, {"offset": 0.63889, "color": "#fff"}, {"offset": 0.65278, "color": "#222"},
          {"offset": 0.66667, "color": "#fff"}, {"offset": 0.68056, "color": "#222"}, {"offset": 0.69444, "color": "#fff"}, {"offset": 0.70833, "color": "#222"},
          {"offset": 0.72222, "color": "#fff"}, {"offset": 0.73611, "color": "#222"}, {"offset": 0.75, "color": "#fff"}, {"offset": 0.76389, "color": "#222"},
          {"offset": 0.77778, "color": "#fff"}, {"offset": 0.79167, "color": "#222"}, {"offset": 0.80556, "color": "#fff"}, {"offset": 0.81944, "color": "#222"},
          {"offset": 0.83333, "color": "#fff"}, {"offset": 0.84722, "color": "#222"}, {"offset": 0.86111, "color": "#fff"}, {"offset": 0.875, "color": "#222"},
          {"offset": 0.88889, "color": "#fff"}, {"offset": 0.90278, "color": "#222"}, {"offset": 0.91667, "color": "#fff"}, {"offset": 0.93056, "color": "#222"},
          {"offset": 0.94444, "color": "#fff"}, {"offset": 0.95833, "color": "#222"}, {"offset": 0.97222, "color": "#fff"}, {"offset": 0.98611, "color": "#222"},
          {"offset": 1, "color": "#fff"}]}}},
        {"mark": {"type": "bar", "filled": false, "stroke": "#000", "strokeWidth": 2.5}},
        {"mark": {"type": "rule", "stroke": "#000", "strokeWidth": 2.5}, "encoding": {"y2": {"field": "hi"}}},
        {"mark": {"type": "tick", "color": "#000", "size": 17, "thickness": 2.5}, "encoding": {"y": {"field": "hi", "type": "quantitative"}}},
        {"transform": [{"filter": "datum.s===1"}], "mark": {"type": "text", "text": "*", "fontSize": 30, "fontWeight": "bold", "font": "Liberation Sans", "baseline": "alphabetic", "dy": 6, "color": "#000"}, "encoding": {"y": {"field": "hi", "type": "quantitative"}}}
      ]
    }
  ],
  "config": {
    "font": "Liberation Sans",
    "view": {"stroke": null},
    "axis": {"grid": false, "domainColor": "#000", "domainWidth": 2, "tickColor": "#000", "tickWidth": 2, "labelFont": "Liberation Sans", "labelFontWeight": "bold", "labelColor": "#000", "titleFont": "Liberation Sans", "titleFontWeight": "bold", "titleColor": "#000"},
    "axisX": {"labelFontSize": 13, "tickSize": 4, "labelPadding": 3},
    "axisY": {"labelFontSize": 10, "tickSize": 5, "labelPadding": 2, "titleFontSize": 14.5, "titleLineHeight": 17}
  }
}
